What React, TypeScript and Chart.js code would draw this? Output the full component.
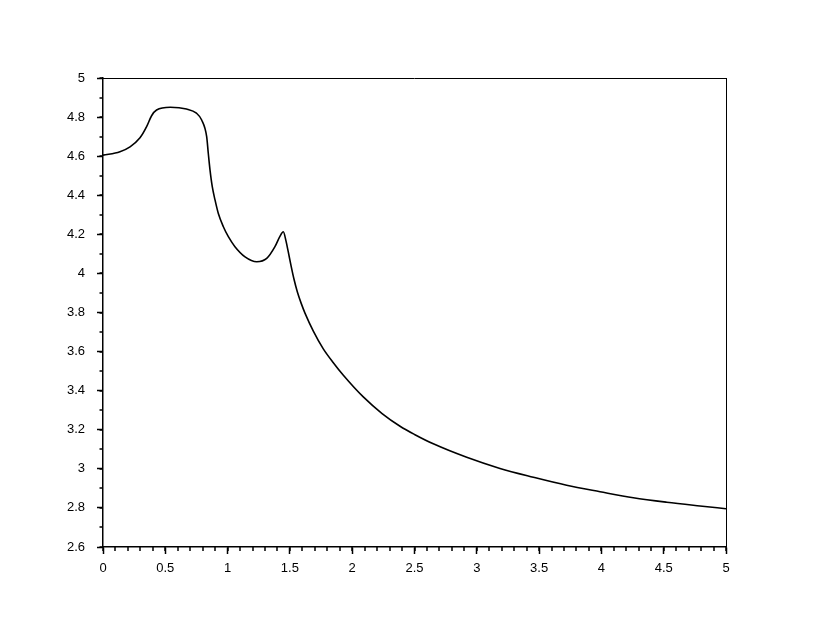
import React, { useEffect, useRef } from "react";
import { Chart, registerables } from "chart.js";

Chart.register(...registerables);

const xValues = [0, 0.136, 0.217, 0.297, 0.35, 0.39, 0.43, 0.54, 0.67, 0.75, 0.792, 0.832, 0.845, 0.859, 0.877, 0.899, 0.925, 0.966, 1.006, 1.059, 1.14, 1.234, 1.314, 1.38, 1.42, 1.447, 1.469, 1.487, 1.509, 1.533, 1.56, 1.59, 1.621, 1.688, 1.768, 1.85, 1.929, 2.089, 2.24, 2.384, 2.5, 2.651, 2.919, 3.186, 3.454, 3.721, 3.989, 4.256, 4.524, 4.791, 5.0];
const yValues = [4.605, 4.623, 4.648, 4.694, 4.751, 4.807, 4.836, 4.85, 4.841, 4.82, 4.785, 4.7, 4.615, 4.529, 4.444, 4.376, 4.308, 4.239, 4.188, 4.137, 4.085, 4.06, 4.077, 4.137, 4.19, 4.213, 4.165, 4.11, 4.04, 3.97, 3.905, 3.848, 3.797, 3.705, 3.614, 3.542, 3.479, 3.368, 3.283, 3.218, 3.176, 3.128, 3.059, 3.002, 2.957, 2.916, 2.883, 2.852, 2.829, 2.81, 2.796];

const xTicks = [0, 0.5, 1, 1.5, 2, 2.5, 3, 3.5, 4, 4.5, 5];
const yTicks = [2.6, 2.8, 3, 3.2, 3.4, 3.6, 3.8, 4, 4.2, 4.4, 4.6, 4.8, 5];
const xMinorTicks = Array.from({ length: 51 }, (_, i) => i / 10);
const yMinorTicks = Array.from({ length: 25 }, (_, i) => 2.6 + i / 10);

const framePlugin = {
  id: "frame",
  afterDraw(chart: any) {
    const { ctx, chartArea } = chart;
    const xs = chart.scales.x;
    const ys = chart.scales.y;
    ctx.save();
    ctx.strokeStyle = "#000";
    ctx.lineWidth = 1;
    ctx.beginPath();
    ctx.moveTo(chartArea.left, chartArea.top + 0.5);
    ctx.lineTo(chartArea.right, chartArea.top + 0.5);
    ctx.moveTo(chartArea.right + 0.5, chartArea.top);
    ctx.lineTo(chartArea.right + 0.5, chartArea.bottom);
    ctx.stroke();
    ctx.lineWidth = 1.5;
    ctx.beginPath();
    for (const v of xMinorTicks) {
      const px = Math.round(xs.getPixelForValue(v));
      ctx.moveTo(px, chartArea.bottom);
      ctx.lineTo(px, chartArea.bottom + 4);
    }
    for (const v of yMinorTicks) {
      const py = Math.round(ys.getPixelForValue(v));
      ctx.moveTo(chartArea.left, py);
      ctx.lineTo(chartArea.left - 3.5, py);
    }
    ctx.stroke();
    ctx.restore();
  },
};

export default function App() {
  const ref = useRef<HTMLCanvasElement>(null);
  useEffect(() => {
    if (!ref.current) return;
    const chart = new Chart(ref.current, {
      type: "line",
      data: {
        datasets: [
          {
            data: xValues.map((x, i) => ({ x, y: yValues[i] })),
            borderColor: "#000",
            borderWidth: 1.6,
            pointRadius: 0,
            fill: false,
            cubicInterpolationMode: "monotone",
          },
        ],
      },
      options: {
        animation: false,
        responsive: false,
        events: [],
        layout: { padding: { top: 78, right: 104, left: 0, bottom: 0 } },
        plugins: { legend: { display: false }, tooltip: { enabled: false } },
        scales: {
          x: {
            type: "linear",
            min: 0,
            max: 5,
            afterBuildTicks: (s: any) => {
              s.ticks = xTicks.map((v) => ({ value: v }));
            },
            afterFit: (s: any) => {
              s.height = 79;
            },
            grid: { drawOnChartArea: false, tickLength: 7, color: "#000", tickWidth: 1.5 },
            border: { color: "#000", width: 1.5 },
            ticks: {
              color: "#000",
              padding: 7,
              maxRotation: 0,
              autoSkip: false,
              font: { family: "'Liberation Sans', Arial, sans-serif", size: 13 },
              callback: (v: any) => String(v),
            },
          },
          y: {
            type: "linear",
            min: 2.6,
            max: 5,
            afterBuildTicks: (s: any) => {
              s.ticks = yTicks.map((v) => ({ value: v }));
            },
            afterFit: (s: any) => {
              s.width = 103;
            },
            grid: { drawOnChartArea: false, tickLength: 6, color: "#000", tickWidth: 1.5 },
            border: { color: "#000", width: 1.5 },
            ticks: {
              color: "#000",
              padding: 12,
              autoSkip: false,
              font: { family: "'Liberation Sans', Arial, sans-serif", size: 13 },
              callback: (v: any) => String(Math.round(v * 10) / 10),
            },
          },
        },
      },
      plugins: [framePlugin],
    });
    return () => chart.destroy();
  }, []);
  return (
    <div style={{ position: "absolute", left: 0, top: 0, width: 830, height: 626, background: "#fff" }}>
      <canvas ref={ref} width={830} height={626} />
    </div>
  );
}
